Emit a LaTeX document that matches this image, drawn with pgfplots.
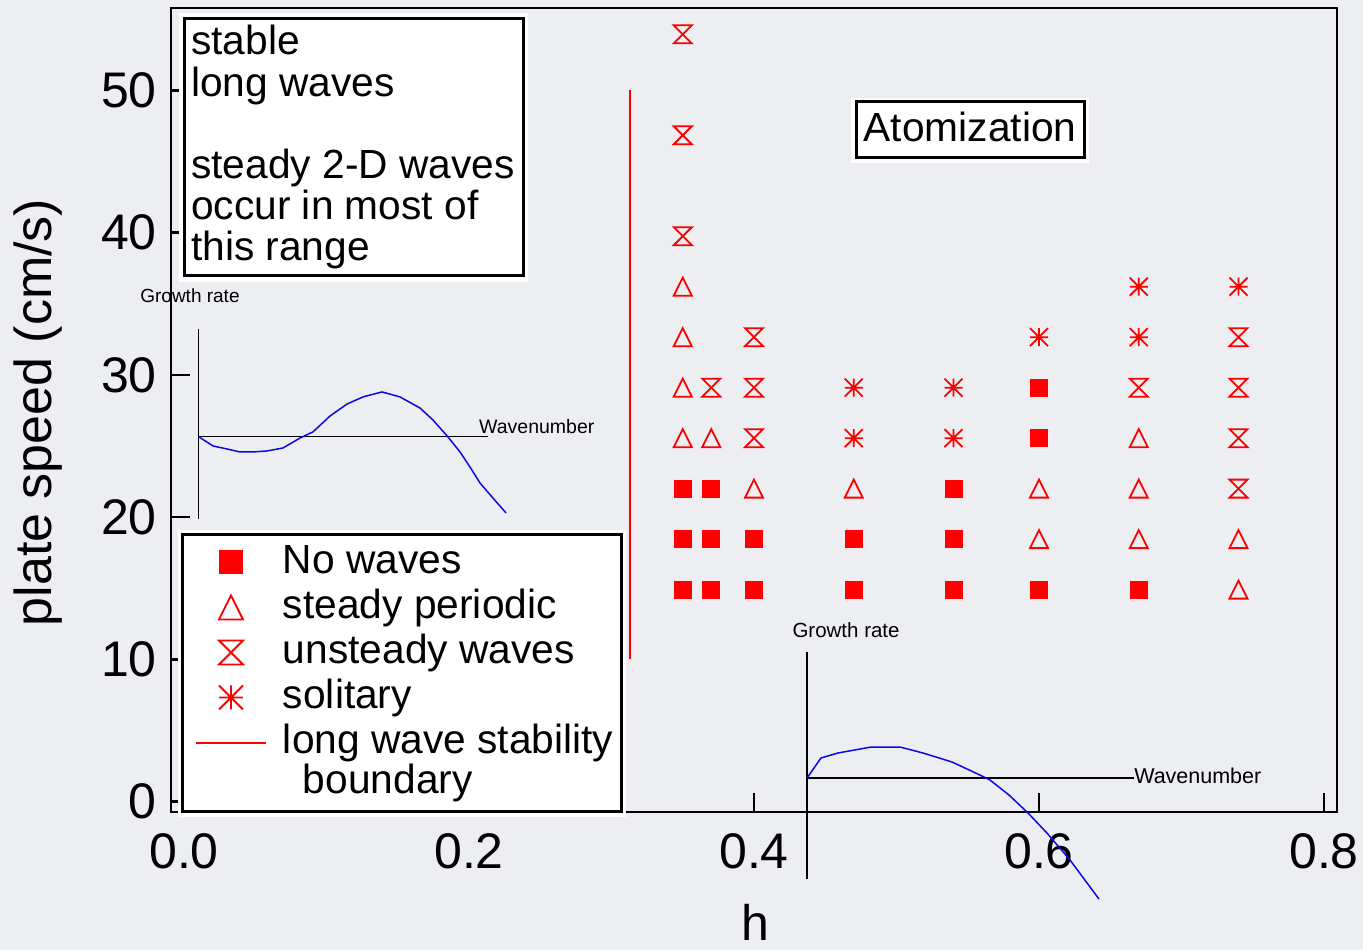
\documentclass[border=0pt]{standalone}
\usepackage{fontspec}
\setmainfont{Liberation Sans}
\usepackage{pgfplots}
\pgfplotsset{compat=1.18}

\definecolor{slidebg}{RGB}{236,238,242}
\definecolor{markred}{RGB}{255,0,0}
\definecolor{curveblue}{RGB}{10,10,225}

\newcommand\bigfont{\fontsize{40.7}{41.5}\selectfont}
\newcommand\tickfont{\fontsize{50}{50}\selectfont}

% open triangle, as wide as it is tall
\pgfdeclareplotmark{opentri}{%
  \pgfpathmoveto{\pgfqpoint{-\pgfplotmarksize}{-\pgfplotmarksize}}%
  \pgfpathlineto{\pgfqpoint{\pgfplotmarksize}{-\pgfplotmarksize}}%
  \pgfpathlineto{\pgfqpoint{0pt}{\pgfplotmarksize}}%
  \pgfpathclose
  \pgfusepathqstroke}
% hourglass
\pgfdeclareplotmark{hourglass}{%
  \pgfpathmoveto{\pgfqpoint{-\pgfplotmarksize}{\pgfplotmarksize}}%
  \pgfpathlineto{\pgfqpoint{\pgfplotmarksize}{\pgfplotmarksize}}%
  \pgfpathlineto{\pgfqpoint{-\pgfplotmarksize}{-\pgfplotmarksize}}%
  \pgfpathlineto{\pgfqpoint{\pgfplotmarksize}{-\pgfplotmarksize}}%
  \pgfpathclose
  \pgfusepathqstroke}
% eight-ray asterisk
\pgfdeclareplotmark{asterisk8}{%
  \pgfpathmoveto{\pgfqpoint{0pt}{-\pgfplotmarksize}}%
  \pgfpathlineto{\pgfqpoint{0pt}{\pgfplotmarksize}}%
  \pgfpathmoveto{\pgfqpoint{-\pgfplotmarksize}{0pt}}%
  \pgfpathlineto{\pgfqpoint{\pgfplotmarksize}{0pt}}%
  \pgfpathmoveto{\pgfqpoint{-\pgfplotmarksize}{-\pgfplotmarksize}}%
  \pgfpathlineto{\pgfqpoint{\pgfplotmarksize}{\pgfplotmarksize}}%
  \pgfpathmoveto{\pgfqpoint{-\pgfplotmarksize}{\pgfplotmarksize}}%
  \pgfpathlineto{\pgfqpoint{\pgfplotmarksize}{-\pgfplotmarksize}}%
  \pgfusepathqstroke}

\pgfplotsset{
  markleg/.style={legend image code/.code={%
      \draw[mark size=#1] plot coordinates {(35pt,11.5pt)};}},
}

\begin{document}
\begin{tikzpicture}[x=1pt,y=1pt]
\fill[slidebg] (0,0) rectangle (1363,950);
\path[use as bounding box] (0,0) rectangle (1363,950);

\begin{axis}[
  at={(171pt,138pt)}, anchor=south west,
  scale only axis, width=1166pt, height=804pt,
  xmin=-0.00912, xmax=0.80912, ymin=-0.738, ymax=55.80,
  clip=false,
  axis line style={line width=2.7pt},
  xtick={0,0.2,0.4,0.6,0.8}, xticklabels={0.0,0.2,0.4,0.6,0.8},
  ytick={0,10,20,30,40,50}, yticklabels={0,10,20,30,40,50},
  xtick pos=bottom, ytick pos=left,
  tick align=inside, major tick length=19pt,
  tick style={line width=2.5pt, black},
  ticklabel style={font=\tickfont, inner sep=0pt},
  xticklabel style={anchor=north, yshift=-21pt},
  yticklabel style={anchor=east, xshift=-14pt},
  /pgf/number format/assume math mode=true,
  xlabel={h}, ylabel={plate speed (cm/s)},
  label style={inner sep=0pt},
  xlabel style={font=\tickfont, at={(axis description cs:0.5009,-0.1150)}, anchor=north},
  ylabel style={font=\fontsize{52}{52}\selectfont,
    at={(axis description cs:-0.114,0.4969)}, anchor=center},
  legend cell align=left,
  legend style={
    at={(axis description cs:0.0090,0.3464)}, anchor=north west,
    draw=black, line width=3pt, fill=white,
    preaction={draw=white, line width=10pt},
    inner xsep=8pt, inner ysep=6pt,
    row sep=0pt, column sep=12pt,
    font=\bigfont,
    cells={anchor=base west},
    nodes={inner sep=0pt, text height=33pt, text depth=12pt},
  },
]

% no waves
\addplot[only marks, color=markred, mark=square*, mark size=8.5pt,
  mark options={fill=markred, line width=1pt}, markleg=11.5pt]
  coordinates {
  (0.35,14.9) (0.35,18.45) (0.35,22.0)
  (0.37,14.9) (0.37,18.45) (0.37,22.0)
  (0.40,14.9) (0.40,18.45)
  (0.47,14.9) (0.47,18.45)
  (0.54,14.9) (0.54,18.45) (0.54,22.0)
  (0.60,14.9) (0.60,25.55) (0.60,29.1)
  (0.67,14.9)
};
\addlegendentry{No waves}

% steady periodic
\addplot[only marks, color=markred, mark=opentri, mark size=9pt,
  mark options={line width=1.8pt}, markleg=12pt]
  coordinates {
  (0.35,25.55) (0.35,29.1) (0.35,32.65) (0.35,36.2)
  (0.37,25.55)
  (0.40,22.0)
  (0.47,22.0)
  (0.60,18.45) (0.60,22.0)
  (0.67,18.45) (0.67,22.0) (0.67,25.55)
  (0.74,14.9) (0.74,18.45)
};
\addlegendentry{steady periodic}

% unsteady waves
\addplot[only marks, color=markred, mark=hourglass, mark size=9pt,
  mark options={line width=1.8pt}, markleg=12pt]
  coordinates {
  (0.35,39.75) (0.35,46.85) (0.35,53.95)
  (0.37,29.1)
  (0.40,25.55) (0.40,29.1) (0.40,32.65)
  (0.67,29.1)
  (0.74,22.0) (0.74,25.55) (0.74,29.1) (0.74,32.65)
};
\addlegendentry{unsteady waves}

% solitary
\addplot[only marks, color=markred, mark=asterisk8, mark size=9pt,
  mark options={line width=1.8pt}, markleg=12pt]
  coordinates {
  (0.47,25.55) (0.47,29.1)
  (0.54,25.55) (0.54,29.1)
  (0.60,32.65)
  (0.67,32.65) (0.67,36.2)
  (0.74,36.2)
};
\addlegendentry{solitary}

% long wave stability boundary
\addplot[color=markred, line width=2.5pt,
  legend image code/.code={\draw[line width=2.2pt] (0pt,11pt) -- (70pt,11pt);}]
  coordinates {(0.313,10) (0.313,50)};
\addlegendentry{long wave stability}
\addlegendimage{empty legend}
\addlegendentry[text height=28pt]{\hspace{20pt}boundary}

% growth-rate sketch, upper left
\draw[line width=1.3pt] (axis cs:0.0103,33.23) -- (axis cs:0.0103,19.87);
\draw[line width=1.3pt] (axis cs:0.0103,25.65) -- (axis cs:0.2133,25.65);
\addplot[curveblue, line width=1.5pt, forget plot] coordinates {
  (0.0103,25.65) (0.0204,25.00) (0.0302,24.79) (0.0393,24.58)
  (0.0484,24.58) (0.0582,24.65) (0.0695,24.86) (0.0814,25.56)
  (0.0905,25.99) (0.1025,27.11) (0.1144,27.95) (0.1256,28.45)
  (0.1389,28.80) (0.1516,28.45) (0.1656,27.67) (0.1747,26.83)
  (0.1853,25.63) (0.1937,24.58) (0.2007,23.52) (0.2077,22.40)
  (0.2168,21.34) (0.2260,20.29)
};
\node[inner sep=0pt, font=\fontsize{19}{19}\selectfont]
  at (axis cs:0.0042,35.55) {Growth rate};
\node[anchor=west, inner sep=0pt, font=\fontsize{19.5}{19.5}\selectfont]
  at (axis cs:0.207,26.34) {Wavenumber};

% growth-rate sketch, lower right
\draw[line width=1.3pt] (axis cs:0.4372,10.51) -- (axis cs:0.4372,-5.45);
\draw[line width=1.3pt] (axis cs:0.4372,1.65) -- (axis cs:0.6667,1.65);
\addplot[curveblue, line width=1.5pt, forget plot] coordinates {
  (0.4372,1.65) (0.4470,3.06) (0.4589,3.41) (0.4821,3.83)
  (0.5025,3.83) (0.5186,3.41) (0.5389,2.78) (0.5586,1.86)
  (0.5656,1.51) (0.5789,0.46) (0.5923,-0.81) (0.6056,-2.22)
  (0.6218,-4.12) (0.6421,-6.86)
};
\node[inner sep=0pt, font=\fontsize{20.5}{20.5}\selectfont]
  at (axis cs:0.4646,12.06) {Growth rate};
\node[anchor=west, inner sep=0pt, font=\fontsize{21.5}{21.5}\selectfont]
  at (axis cs:0.6667,1.79) {Wavenumber};
\end{axis}

% note box, upper left
\fill[white] (179,668) rectangle (528,937);
\draw[line width=3pt] (184.5,931.5) rectangle (523.5,674.5);
\begin{scope}[every node/.style={anchor=base west, inner sep=0pt, font=\bigfont}]
\node at (191,895) {stable};
\node at (191,853.5) {long waves};
\node at (191,771) {steady 2-D waves};
\node at (191,730) {occur in most of};
\node at (191,689) {this range};
\end{scope}

% regime label
\fill[white] (851,787) rectangle (1089,852);
\draw[line width=3pt] (856,848.5) rectangle (1084,792.5);
\node[anchor=base, inner sep=0pt, font=\bigfont] at (970,808) {Atomization};
\end{tikzpicture}
\end{document}
